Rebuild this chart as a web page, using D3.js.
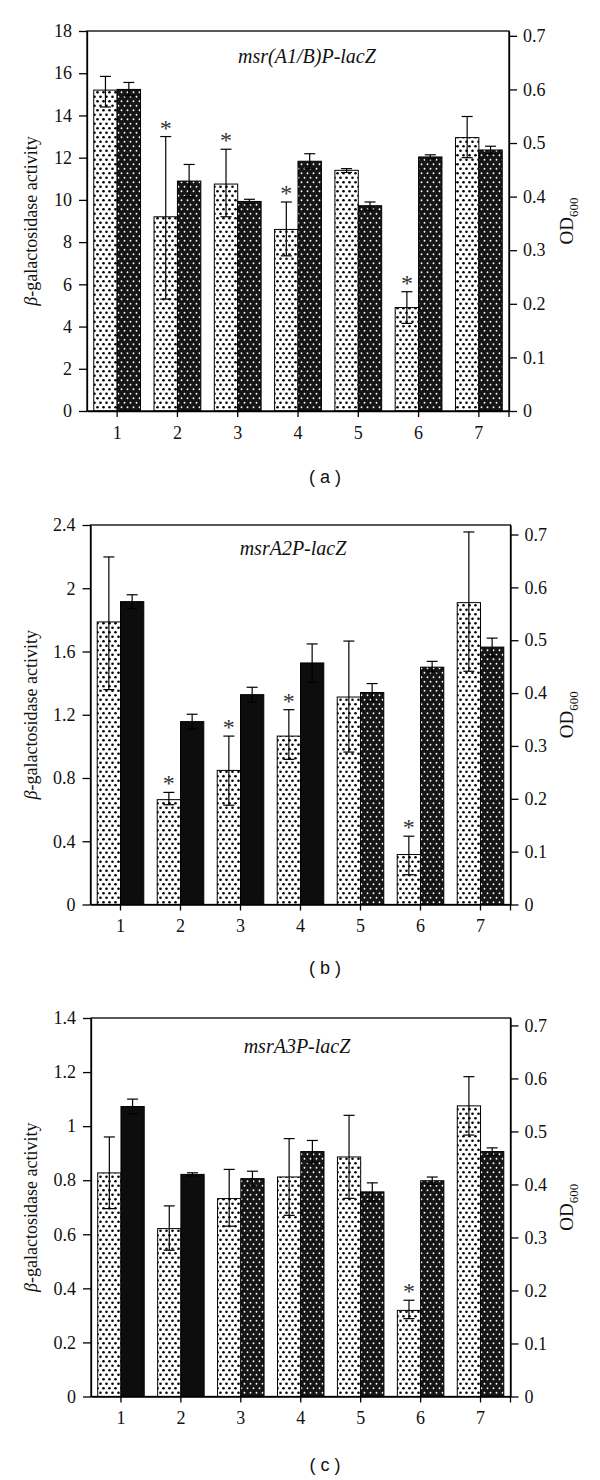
<!DOCTYPE html>
<html><head><meta charset="utf-8">
<script src="https://cdn.jsdelivr.net/npm/d3@7"></script>
<style>
body{margin:0;background:#fff;}
svg{display:block;}
</style></head>
<body>
<svg id="chart" width="600" height="1480"></svg>
<script>
const categories = ["1","2","3","4","5","6","7"];

// Panel (a) msr(A1/B)P-lacZ
const betaA   = [15.2, 9.2, 10.75, 8.6, 11.4, 4.9, 12.95];
const betaLoA = [14.4, 5.3, 9.2, 7.35, 11.3, 4.15, 12.0];
const betaHiA = [15.85, 13.0, 12.4, 9.9, 11.48, 5.65, 13.95];
const odA     = [0.6, 0.429, 0.391, 0.466, 0.383, 0.474, 0.487];
const odLoA   = [0.588, 0.40, 0.387, 0.452, 0.375, 0.47, 0.48];
const odHiA   = [0.613, 0.46, 0.395, 0.48, 0.39, 0.478, 0.494];
const starsA  = [0,1,1,1,0,1,0];
const solidA  = [0,0,0,0,0,0,0];
const leftTicksA = [0,2,4,6,8,10,12,14,16,18];

// Panel (b) msrA2P-lacZ
const betaB   = [1.787, 0.663, 0.848, 1.065, 1.312, 0.316, 1.909];
const betaLoB = [1.359, 0.631, 0.628, 0.918, 0.964, 0.188, 1.475];
const betaHiB = [2.198, 0.709, 1.065, 1.232, 1.666, 0.432, 2.356];
const odB     = [0.573, 0.346, 0.397, 0.457, 0.401, 0.449, 0.487];
const odLoB   = [0.56, 0.332, 0.383, 0.42, 0.384, 0.44, 0.47];
const odHiB   = [0.586, 0.36, 0.411, 0.493, 0.418, 0.46, 0.504];
const starsB  = [0,1,1,1,0,1,0];
const solidB  = [1,1,1,1,0,0,0];
const leftTicksB = [0,0.4,0.8,1.2,1.6,2,2.4];

// Panel (c) msrA3P-lacZ
const betaC   = [0.827, 0.621, 0.732, 0.812, 0.886, 0.3185, 1.075];
const betaLoC = [0.695, 0.541, 0.63, 0.67, 0.733, 0.288, 0.967];
const betaHiC = [0.96, 0.705, 0.84, 0.954, 1.04, 0.356, 1.183];
const odC     = [0.547, 0.419, 0.411, 0.462, 0.386, 0.407, 0.462];
const odLoC   = [0.533, 0.416, 0.397, 0.441, 0.369, 0.40, 0.455];
const odHiC   = [0.561, 0.422, 0.425, 0.483, 0.403, 0.414, 0.469];
const starsC  = [0,0,0,0,0,1,0];
const solidC  = [1,1,0,0,0,0,0];
const leftTicksC = [0,0.2,0.4,0.6,0.8,1,1.2,1.4];

const rightTicks = [0,0.1,0.2,0.3,0.4,0.5,0.6,0.7];
const titles = ["msr(A1/B)P-lacZ","msrA2P-lacZ","msrA3P-lacZ"];
const panelLabels = ["( a )","( b )","( c )"];

const panels = [
  {beta:betaA, lo:betaLoA, hi:betaHiA, od:odA, odLo:odLoA, odHi:odHiA, stars:starsA, solid:solidA, lt:leftTicksA, lmax:18, rmax:0.709,
   top:31, bottom:411, left:87, right:509, titleX:307, titleY:63, labelY:484},
  {beta:betaB, lo:betaLoB, hi:betaHiB, od:odB, odLo:odLoB, odHi:odHiB, stars:starsB, solid:solidB, lt:leftTicksB, lmax:2.4, rmax:0.718,
   top:525, bottom:904.5, left:90.5, right:510.5, titleX:293, titleY:555, labelY:975},
  {beta:betaC, lo:betaLoC, hi:betaHiC, od:odC, odLo:odLoC, odHi:odHiC, stars:starsC, solid:solidC, lt:leftTicksC, lmax:1.4, rmax:0.714,
   top:1018, bottom:1396.5, left:91, right:510.5, titleX:297, titleY:1053, labelY:1472}
];

const svg = d3.select("#chart");
const defs = svg.append("defs");
const pl = defs.append("pattern").attr("id","lightDots").attr("patternUnits","userSpaceOnUse")
  .attr("width",6).attr("height",9);
pl.append("rect").attr("width",6).attr("height",9).attr("fill","#fff");
pl.append("circle").attr("cx",1.5).attr("cy",2.25).attr("r",1.3).attr("fill","#000");
pl.append("circle").attr("cx",4.5).attr("cy",6.75).attr("r",1.3).attr("fill","#000");
const pd = defs.append("pattern").attr("id","darkDots").attr("patternUnits","userSpaceOnUse")
  .attr("width",6).attr("height",9);
pd.append("rect").attr("width",6).attr("height",9).attr("fill","#161616");
pd.append("circle").attr("cx",1.5).attr("cy",2.25).attr("r",0.9).attr("fill","#fff");
pd.append("circle").attr("cx",4.5).attr("cy",6.75).attr("r",0.9).attr("fill","#fff");

const serif = "'Liberation Serif','Times New Roman',serif";
const fmt = d3.format("~g");

panels.forEach((p, pi) => {
  const g = svg.append("g");
  const x = d3.scaleBand().domain(categories).range([p.left, p.right]).paddingInner(0).paddingOuter(0);
  const yL = d3.scaleLinear().domain([0, p.lmax]).range([p.bottom, p.top]);
  const yR = d3.scaleLinear().domain([0, p.rmax]).range([p.bottom, p.top]);
  const bw = x.bandwidth() * 0.388;

  const data = categories.map((c, i) => ({c, i, beta:p.beta[i], lo:p.lo[i], hi:p.hi[i], od:p.od[i], odLo:p.odLo[i], odHi:p.odHi[i], star:p.stars[i], solid:p.solid[i]}));

  // bars
  g.selectAll(".bL").data(data).join("rect")
    .attr("x", d => x(d.c) + x.bandwidth()/2 - bw)
    .attr("y", d => yL(d.beta))
    .attr("width", bw).attr("height", d => yL(0) - yL(d.beta))
    .attr("fill","url(#lightDots)").attr("stroke","#000").attr("stroke-width",1);
  g.selectAll(".bR").data(data).join("rect")
    .attr("x", d => x(d.c) + x.bandwidth()/2)
    .attr("y", d => yR(d.od))
    .attr("width", bw).attr("height", d => yR(0) - yR(d.od))
    .attr("fill", d => d.solid ? "#0d0d0d" : "url(#darkDots)").attr("stroke","#000").attr("stroke-width",1);

  // error bars
  const cap = 5.5;
  const errs = [];
  data.forEach(d => {
    errs.push({cx: x(d.c) + x.bandwidth()/2 - bw/2, y1: yL(d.lo), y2: yL(d.hi)});
    errs.push({cx: x(d.c) + x.bandwidth()/2 + bw/2, y1: yR(d.odLo), y2: yR(d.odHi)});
  });
  const eg = g.append("g").attr("stroke","#000").attr("stroke-width",1.2);
  eg.selectAll(".ev").data(errs).join("line").attr("x1",d=>d.cx).attr("x2",d=>d.cx).attr("y1",d=>d.y1).attr("y2",d=>d.y2);
  eg.selectAll(".et").data(errs).join("line").attr("x1",d=>d.cx-cap).attr("x2",d=>d.cx+cap).attr("y1",d=>d.y2).attr("y2",d=>d.y2);
  eg.selectAll(".eb").data(errs).join("line").attr("x1",d=>d.cx-cap).attr("x2",d=>d.cx+cap).attr("y1",d=>d.y1).attr("y2",d=>d.y1);

  // stars
  g.selectAll(".star").data(data.filter(d => d.star)).join("text")
    .attr("x", d => x(d.c) + x.bandwidth()/2 - bw/2)
    .attr("y", d => yL(d.hi) - 1)
    .attr("text-anchor","middle").attr("font-family",serif).attr("font-size",24).attr("fill","#333")
    .text("*");

  // frame
  g.append("rect").attr("x",p.left).attr("y",p.top).attr("width",p.right-p.left).attr("height",p.bottom-p.top)
    .attr("fill","none").attr("stroke","#000").attr("stroke-width",1.3);

  // axes
  const axL = g.append("g").attr("transform",`translate(${p.left},0)`)
    .call(d3.axisLeft(yL).tickValues(p.lt).tickFormat(fmt).tickSize(8).tickSizeOuter(0).tickPadding(7));
  const axR = g.append("g").attr("transform",`translate(${p.right},0)`)
    .call(d3.axisRight(yR).tickValues(rightTicks).tickFormat(fmt).tickSize(8).tickSizeOuter(0).tickPadding(6));
  const axB = g.append("g").attr("transform",`translate(0,${p.bottom})`)
    .call(d3.axisBottom(x).tickSize(6).tickSizeOuter(0).tickPadding(9));
  [axL, axR, axB].forEach(a => {
    a.select(".domain").attr("stroke","#000").attr("stroke-width",1.3);
    a.selectAll(".tick line").attr("stroke","#000").attr("stroke-width",1.3);
    a.selectAll(".tick text").attr("font-family",serif).attr("font-size",18).attr("fill","#111");
  });
  g.append("line").attr("x1",p.right).attr("x2",p.right).attr("y1",p.bottom).attr("y2",p.bottom+6)
    .attr("stroke","#000").attr("stroke-width",1.3);

  // titles
  g.append("text").attr("x",p.titleX).attr("y",p.titleY).attr("text-anchor","middle")
    .attr("font-family",serif).attr("font-style","italic").attr("font-size",20).attr("fill","#111")
    .text(titles[pi]);

  const cy = (p.top + p.bottom)/2;
  const lt = g.append("text").attr("transform",`translate(37,${cy}) rotate(-90)`).attr("text-anchor","middle")
    .attr("font-family",serif).attr("font-size",18).attr("fill","#111");
  lt.append("tspan").attr("font-style","italic").text("β");
  lt.append("tspan").text("-galactosidase activity");

  const rt = g.append("text").attr("transform",`translate(573,${cy}) rotate(-90)`).attr("text-anchor","middle")
    .attr("font-family",serif).attr("font-size",19).attr("fill","#111");
  rt.append("tspan").text("OD");
  rt.append("tspan").attr("font-size",13).attr("dy",5).text("600");

  g.append("text").attr("x",325).attr("y",p.labelY - 1).attr("text-anchor","middle")
    .attr("font-family","'Liberation Sans',Arial,sans-serif").attr("font-size",18).attr("fill","#111")
    .text(panelLabels[pi]);
});
</script>
</body></html>
